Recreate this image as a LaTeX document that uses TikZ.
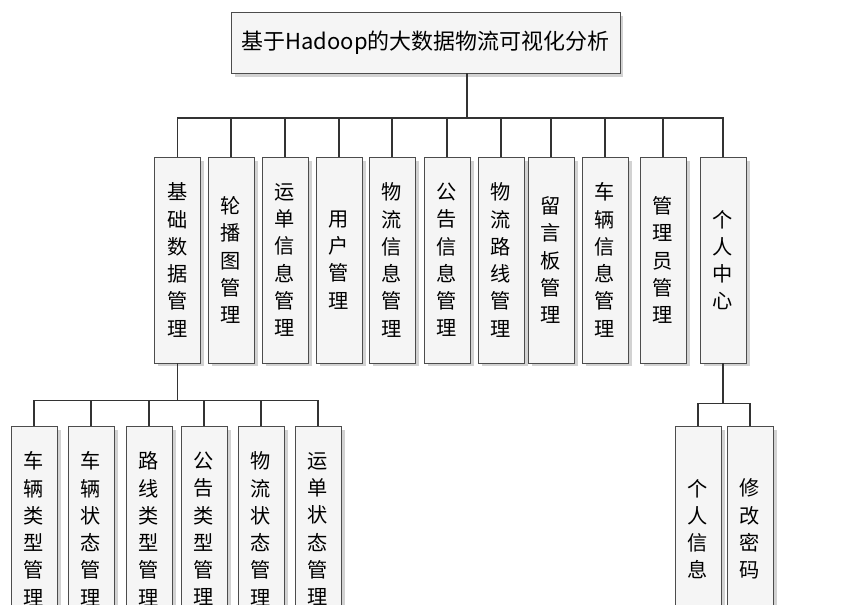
\documentclass[tikz,border=0pt]{standalone}
\usepackage{fontspec}
\setmainfont{Noto Sans CJK SC}
\usetikzlibrary{shadows}
\tikzset{
  box/.style={draw=black!70, fill=gray!8, drop shadow={shadow xshift=2pt, shadow yshift=-2pt, fill=black!35},
    minimum width=0.92cm, align=center, inner sep=0pt, font=\fontsize{11.5}{15.5}\selectfont},
  link/.style={line width=0.9pt, black!80}
}
\begin{document}
\begin{tikzpicture}[x=0.02cm, y=-0.02cm]
\useasboundingbox (0,0) rectangle (850,605);

\node[box, minimum width=7.78cm, minimum height=1.22cm, font=\fontsize{12.5}{15}\selectfont] (root) at (425.5,42.5) {基于Hadoop的大数据物流可视化分析};
\coordinate (stem) at (467,73);

% second level
\foreach \name/\x/\txt in {
  b1/177.5/基\\础\\数\\据\\管\\理,
  b2/231/轮\\播\\图\\管\\理,
  b3/285/运\\单\\信\\息\\管\\理,
  b4/339/用\\户\\管\\理,
  b5/392/物\\流\\信\\息\\管\\理,
  b6/447/公\\告\\信\\息\\管\\理,
  b7/501/物\\流\\路\\线\\管\\理,
  b8/551/留\\言\\板\\管\\理,
  b9/605/车\\辆\\信\\息\\管\\理,
  b10/663/管\\理\\员\\管\\理,
  b11/723/个\\人\\中\\心}
{
  \node[box, minimum height=4.12cm] (\name) at (\x,260) {\txt};
  \draw[link] (stem) -- ++(0,45) -| (\name.north);
}

% third level
\foreach \name/\x/\txt in {
  c1/34/车\\辆\\类\\型\\管\\理,
  c2/91/车\\辆\\状\\态\\管\\理,
  c3/149/路\\线\\类\\型\\管\\理,
  c4/204/公\\告\\类\\型\\管\\理,
  c5/261/物\\流\\状\\态\\管\\理,
  c6/318/运\\单\\状\\态\\管\\理}
{
  \node[box, minimum height=4.12cm] (\name) at (\x,529) {\txt};
  \draw[link] (b1.south) -- ++(0,37) -| (\name.north);
}

\foreach \name/\x/\txt in {
  d1/698/个\\人\\信\\息,
  d2/750/修\\改\\密\\码}
{
  \node[box, minimum height=4.12cm] (\name) at (\x,529) {\txt};
  \draw[link] (b11.south) -- ++(0,40) -| (\name.north);
}

\end{tikzpicture}
\end{document}
